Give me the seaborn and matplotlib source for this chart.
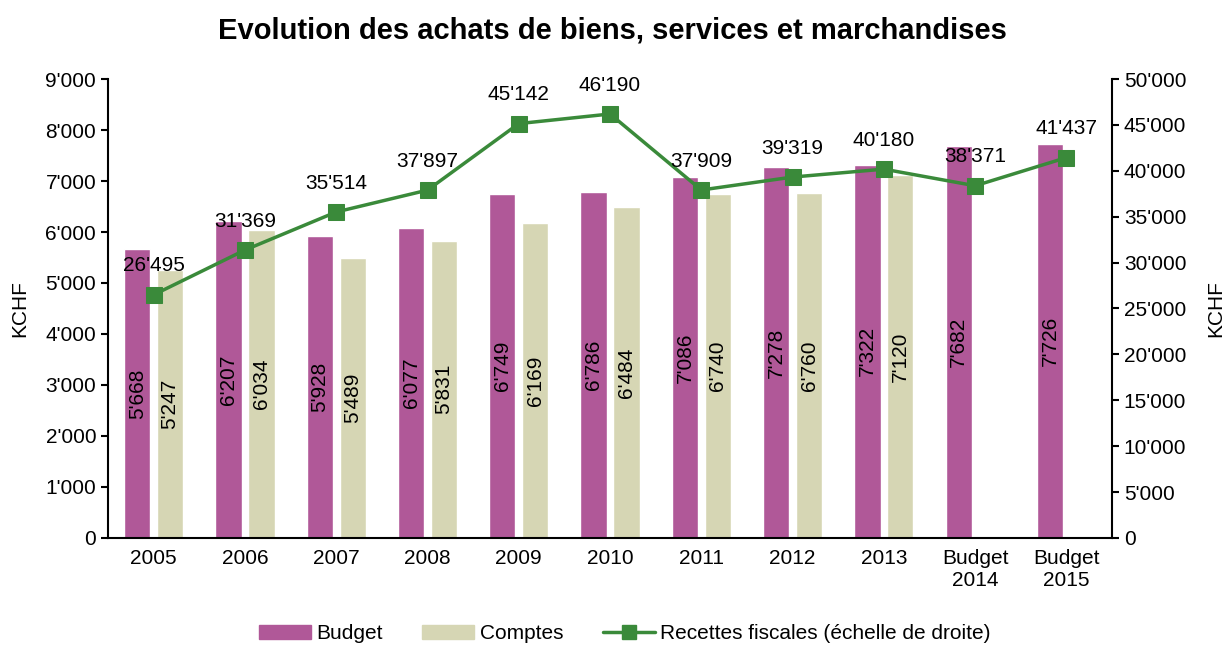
import numpy as np
import pandas as pd
import matplotlib
matplotlib.use('Agg')
import matplotlib.pyplot as plt
import seaborn as sns
from matplotlib.ticker import FuncFormatter
from matplotlib.patches import Patch
from matplotlib.lines import Line2D

sns.set_style('white')
plt.rcParams['font.family'] = ['Liberation Sans', 'DejaVu Sans']
plt.rcParams['font.size'] = 15
plt.rcParams.update({'text.color': 'black', 'axes.labelcolor': 'black',
                     'xtick.color': 'black', 'ytick.color': 'black'})

# data
years = ['2005', '2006', '2007', '2008', '2009', '2010', '2011', '2012', '2013',
         'Budget\n2014', 'Budget\n2015']
budget = [5668, 6207, 5928, 6077, 6749, 6786, 7086, 7278, 7322, 7682, 7726]
comptes = [5247, 6034, 5489, 5831, 6169, 6484, 6740, 6760, 7120, np.nan, np.nan]
recettes = [26495, 31369, 35514, 37897, 45142, 46190, 37909, 39319, 40180, 38371, 41437]

c_budget = '#B05898'
c_comptes = '#D6D6B4'
c_line = '#3A8A3A'


def swiss(v, pos=None):
    return f"{int(round(v)):,}".replace(',', "'")


df = pd.DataFrame({'annee': years * 2,
                   'serie': ['Budget'] * len(years) + ['Comptes'] * len(years),
                   'valeur': budget + comptes})

fig = plt.figure(figsize=(12.25, 6.46), dpi=100)
ax = fig.add_axes([0.0882, 0.1672, 0.8196, 0.7105])

sns.barplot(data=df, x='annee', y='valeur', hue='serie', order=years,
            palette=[c_budget, c_comptes], width=0.72, gap=0.2,
            saturation=1, ax=ax, legend=False)
ax.set_xlim(-0.5, len(years) - 0.5)
ax.set_ylim(0, 9000)
ax.set_yticks(np.arange(0, 9001, 1000))
ax.yaxis.set_major_formatter(FuncFormatter(swiss))
ax.set_xlabel('')
ax.set_ylabel('KCHF', fontsize=15, labelpad=12)
ax.tick_params(axis='y', direction='out', length=5, width=1.5, color='black', left=True)
ax.tick_params(axis='x', length=0, pad=8)

# value labels inside bars
for cont in ax.containers:
    for bar in cont:
        h = bar.get_height()
        if np.isnan(h) or h == 0:
            continue
        ax.text(bar.get_x() + bar.get_width() / 2, h / 2, swiss(h),
                rotation=90, ha='center', va='center', fontsize=15)

for s in ['top', 'right']:
    ax.spines[s].set_visible(False)
for s in ['left', 'bottom']:
    ax.spines[s].set_color('black')
    ax.spines[s].set_linewidth(1.5)

ax2 = ax.twinx()
xpos = np.arange(len(years))
sns.lineplot(x=xpos, y=recettes, ax=ax2, color=c_line, linewidth=2.5,
             marker='s', markersize=11, markeredgecolor=c_line, legend=False)
ax2.set_xlim(-0.5, len(years) - 0.5)
ax2.set_ylim(0, 50000)
ax2.set_yticks(np.arange(0, 50001, 5000))
ax2.yaxis.set_major_formatter(FuncFormatter(swiss))
ax2.set_ylabel('KCHF', fontsize=15, labelpad=14)
ax2.tick_params(axis='y', direction='out', length=5, width=1.5, color='black', right=True)
for s in ['top', 'left', 'bottom']:
    ax2.spines[s].set_visible(False)
ax2.spines['right'].set_color('black')
ax2.spines['right'].set_linewidth(1.5)

for x, v in zip(xpos, recettes):
    ax2.annotate(swiss(v), (x, v), xytext=(0, 14), textcoords='offset points',
                 ha='center', va='bottom', fontsize=15)

fig.suptitle('Evolution des achats de biens, services et marchandises',
             fontsize=21, fontweight='bold', y=0.975)

handles = [Patch(color=c_budget, label='Budget'),
           Patch(color=c_comptes, label='Comptes'),
           Line2D([0], [0], color=c_line, lw=2.5, marker='s', markersize=10,
                  label='Recettes fiscales (échelle de droite)')]
fig.legend(handles=handles, loc='lower center', ncol=3, frameon=False,
           bbox_to_anchor=(0.51, -0.025), handlelength=2.5, handleheight=0.6,
           handletextpad=0.25, columnspacing=1.9, fontsize=15)

fig.savefig('out.png', dpi=100)
